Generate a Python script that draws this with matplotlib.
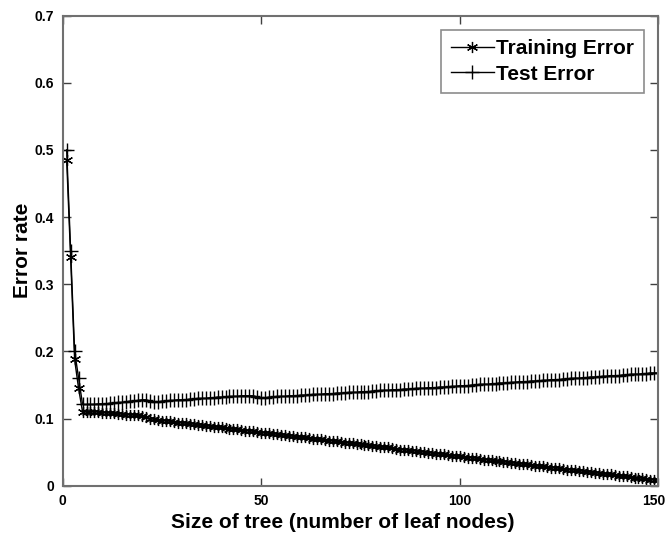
import numpy as np
import matplotlib.pyplot as plt
from matplotlib.transforms import ScaledTranslation

plt.rcParams['font.family'] = ['Liberation Sans', 'DejaVu Sans']

# Tree sizes (number of leaf nodes)
leaf_nodes = np.arange(1, 151)

# Training error (x = 1..150)
train_err = [
    0.485, 0.340, 0.188, 0.145, 0.110, 0.110, 0.110, 0.110, 0.110, 0.109,   # 1-10
    0.109, 0.108, 0.108, 0.107, 0.107, 0.106, 0.106, 0.105, 0.105, 0.104,   # 11-20
    0.103, 0.100, 0.099, 0.098, 0.097, 0.097, 0.096, 0.095, 0.094, 0.094,   # 21-30
    0.093, 0.092, 0.092, 0.091, 0.090, 0.089, 0.089, 0.088, 0.087, 0.087,   # 31-40
    0.086, 0.085, 0.084, 0.084, 0.083, 0.082, 0.082, 0.081, 0.080, 0.079,   # 41-50
    0.079, 0.078, 0.077, 0.077, 0.076, 0.075, 0.074, 0.074, 0.073, 0.072,   # 51-60
    0.072, 0.071, 0.070, 0.069, 0.069, 0.068, 0.067, 0.067, 0.066, 0.065,   # 61-70
    0.064, 0.064, 0.063, 0.062, 0.062, 0.061, 0.060, 0.059, 0.059, 0.058,   # 71-80
    0.057, 0.057, 0.056, 0.055, 0.054, 0.054, 0.053, 0.052, 0.052, 0.051,   # 81-90
    0.050, 0.049, 0.049, 0.048, 0.047, 0.047, 0.046, 0.045, 0.044, 0.044,   # 91-100
    0.043, 0.042, 0.042, 0.041, 0.040, 0.039, 0.039, 0.038, 0.037, 0.037,   # 101-110
    0.036, 0.035, 0.034, 0.034, 0.033, 0.032, 0.032, 0.031, 0.030, 0.029,   # 111-120
    0.029, 0.028, 0.027, 0.027, 0.026, 0.025, 0.024, 0.024, 0.023, 0.022,   # 121-130
    0.022, 0.021, 0.020, 0.019, 0.019, 0.018, 0.017, 0.017, 0.016, 0.015,   # 131-140
    0.014, 0.014, 0.013, 0.012, 0.012, 0.011, 0.010, 0.009, 0.009, 0.008,   # 141-150
]

# Test error (x = 1..150)
test_err = [
    0.500, 0.350, 0.200, 0.160, 0.121, 0.121, 0.121, 0.121, 0.122, 0.122,   # 1-10
    0.122, 0.123, 0.123, 0.124, 0.124, 0.125, 0.126, 0.126, 0.127, 0.128,   # 11-20
    0.128, 0.126, 0.125, 0.125, 0.126, 0.126, 0.127, 0.127, 0.128, 0.128,   # 21-30
    0.128, 0.129, 0.129, 0.130, 0.130, 0.130, 0.131, 0.131, 0.132, 0.132,   # 31-40
    0.132, 0.133, 0.133, 0.133, 0.134, 0.134, 0.134, 0.134, 0.132, 0.131,   # 41-50
    0.131, 0.132, 0.132, 0.133, 0.133, 0.133, 0.134, 0.134, 0.134, 0.135,   # 51-60
    0.135, 0.135, 0.136, 0.136, 0.136, 0.137, 0.137, 0.137, 0.138, 0.138,   # 61-70
    0.138, 0.139, 0.139, 0.139, 0.140, 0.140, 0.140, 0.141, 0.141, 0.142,   # 71-80
    0.142, 0.142, 0.143, 0.143, 0.143, 0.144, 0.144, 0.144, 0.145, 0.145,   # 81-90
    0.145, 0.146, 0.146, 0.146, 0.147, 0.147, 0.147, 0.148, 0.148, 0.149,   # 91-100
    0.149, 0.149, 0.150, 0.150, 0.151, 0.151, 0.151, 0.152, 0.152, 0.153,   # 101-110
    0.153, 0.153, 0.154, 0.154, 0.155, 0.155, 0.155, 0.156, 0.156, 0.156,   # 111-120
    0.157, 0.157, 0.158, 0.158, 0.158, 0.159, 0.159, 0.160, 0.160, 0.160,   # 121-130
    0.161, 0.161, 0.162, 0.162, 0.162, 0.163, 0.163, 0.164, 0.164, 0.164,   # 131-140
    0.165, 0.165, 0.166, 0.166, 0.166, 0.167, 0.167, 0.168, 0.168, 0.168,   # 141-150
]

fig = plt.figure(figsize=(6.67, 5.35), dpi=100)
ax = fig.add_axes([0.094, 0.092, 0.893, 0.879])

# asterisk marker: 6 spokes drawn as lines
asterisk = (6, 2, 0)
ax.plot(leaf_nodes, train_err, color='black', lw=1.0, marker=asterisk,
        markersize=8, markeredgewidth=0.9, label='Training Error')
ax.plot(leaf_nodes, test_err, color='black', lw=1.0, marker='+',
        markersize=10, markeredgewidth=1.0, label='Test Error')

ax.set_xlim(0, 150)
ax.set_ylim(0, 0.7)
ax.set_xticks([0, 50, 100, 150])
ax.set_yticks(np.arange(0, 0.71, 0.1))
ax.set_yticklabels(['0', '0.1', '0.2', '0.3', '0.4', '0.5', '0.6', '0.7'])

for s in ax.spines.values():
    s.set_color('#707070')
    s.set_linewidth(1.5)
ax.tick_params(direction='in', top=True, right=True, length=6, width=1,
               color='#404040', labelsize=10, pad=6)
for lab in ax.get_xticklabels() + ax.get_yticklabels():
    lab.set_fontweight('bold')
# last x label sits a bit left so it stays inside the figure
last = ax.get_xticklabels()[-1]
last.set_transform(last.get_transform() + ScaledTranslation(-5 / 100, 0, fig.dpi_scale_trans))

ax.set_xlabel('Size of tree (number of leaf nodes)', fontsize=15,
              fontweight='bold')
ax.xaxis.set_label_coords(0.471, -0.058)
ax.set_ylabel('Error rate', fontsize=15, fontweight='bold', labelpad=2)

leg = ax.legend(loc='upper right', prop={'weight': 'bold', 'size': 15},
                fancybox=False, frameon=True, handlelength=2.1,
                handletextpad=0.1, borderpad=0.45, labelspacing=0.3,
                borderaxespad=0.7)
leg.get_frame().set_edgecolor('#707070')
leg.get_frame().set_linewidth(1.2)

fig.savefig('out.png', dpi=100)
